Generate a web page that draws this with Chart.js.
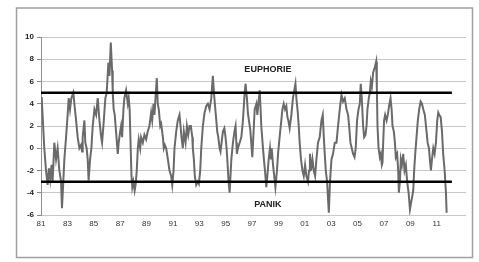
<!DOCTYPE html>
<html>
<head>
<meta charset="utf-8">
<script src="https://cdn.jsdelivr.net/npm/chart.js@4/dist/chart.umd.min.js"></script>
<style>
  html, body { margin: 0; padding: 0; background: #fff; }
  #wrap { width: 479px; height: 262px; }
</style>
</head>
<body>
<div id="wrap"><canvas id="sentChart" width="479" height="262"></canvas></div>
<script>
// sentiment index (x = year, y = index value)
const years = [
    1981.0, 1981.05, 1981.12, 1981.25, 1981.38, 1981.5, 1981.6, 1981.7, 1981.8, 1981.88,
    1982.01, 1982.14, 1982.26, 1982.39, 1982.52, 1982.59, 1982.69, 1982.77, 1982.9, 1983.02,
    1983.1, 1983.2, 1983.3, 1983.45, 1983.53, 1983.66, 1983.78, 1983.91, 1984.04, 1984.11,
    1984.16, 1984.29, 1984.36, 1984.46, 1984.54, 1984.61, 1984.72, 1984.82, 1984.92, 1985.05,
    1985.18, 1985.3, 1985.43, 1985.56, 1985.63, 1985.73, 1985.88, 1985.98, 1986.11, 1986.19,
    1986.29, 1986.39, 1986.44, 1986.51, 1986.59, 1986.69, 1986.82, 1986.89, 1987.0, 1987.07,
    1987.15, 1987.25, 1987.32, 1987.45, 1987.58, 1987.65, 1987.72, 1987.8, 1987.86, 1987.92,
    1988.0, 1988.1, 1988.18, 1988.26, 1988.34, 1988.41, 1988.52, 1988.59, 1988.72, 1988.84,
    1988.97, 1989.09, 1989.22, 1989.35, 1989.43, 1989.53, 1989.6, 1989.68, 1989.78, 1989.85,
    1989.93, 1990.04, 1990.11, 1990.24, 1990.31, 1990.39, 1990.49, 1990.62, 1990.74, 1990.87,
    1990.95, 1991.05, 1991.12, 1991.25, 1991.37, 1991.5, 1991.58, 1991.65, 1991.75, 1991.83,
    1991.96, 1992.06, 1992.16, 1992.26, 1992.36, 1992.47, 1992.51, 1992.59, 1992.66, 1992.77,
    1992.89, 1992.97, 1993.07, 1993.15, 1993.27, 1993.4, 1993.53, 1993.65, 1993.78, 1993.91,
    1994.03, 1994.11, 1994.18, 1994.29, 1994.36, 1994.44, 1994.54, 1994.61, 1994.69, 1994.79,
    1994.9, 1994.99, 1995.07, 1995.15, 1995.22, 1995.3, 1995.43, 1995.55, 1995.68, 1995.75,
    1995.81, 1995.85, 1995.93, 1996.06, 1996.19, 1996.31, 1996.44, 1996.51, 1996.61, 1996.69,
    1996.87, 1997.02, 1997.2, 1997.33, 1997.4, 1997.58, 1997.63, 1997.7, 1997.83, 1997.9,
    1997.98, 1998.08, 1998.16, 1998.26, 1998.36, 1998.43, 1998.49, 1998.59, 1998.77, 1998.89,
    1998.97, 1999.09, 1999.22, 1999.3, 1999.4, 1999.5, 1999.6, 1999.68, 1999.75, 1999.85,
    1999.98, 2000.1, 2000.29, 2000.36, 2000.46, 2000.54, 2000.61, 2000.71, 2000.82, 2000.92,
    2001.02, 2001.12, 2001.24, 2001.32, 2001.39, 2001.47, 2001.58, 2001.68, 2001.78, 2001.88,
    2002.0, 2002.13, 2002.26, 2002.36, 2002.44, 2002.51, 2002.59, 2002.69, 2002.82, 2002.91,
    2003.02, 2003.14, 2003.27, 2003.4, 2003.52, 2003.65, 2003.78, 2003.9, 2004.03, 2004.16,
    2004.28, 2004.36, 2004.46, 2004.56, 2004.66, 2004.77, 2004.86, 2004.96, 2005.07, 2005.17,
    2005.24, 2005.32, 2005.42, 2005.5, 2005.6, 2005.68, 2005.75, 2005.85, 2005.93, 2006.0,
    2006.08, 2006.18, 2006.31, 2006.41, 2006.46, 2006.51, 2006.59, 2006.69, 2006.76, 2006.84,
    2006.89, 2006.94, 2007.01, 2007.09, 2007.2, 2007.29, 2007.39, 2007.5, 2007.58, 2007.65,
    2007.75, 2007.83, 2007.9, 2008.0, 2008.08, 2008.13, 2008.21, 2008.28, 2008.36, 2008.46,
    2008.56, 2008.66, 2008.76, 2008.87, 2008.97, 2009.04, 2009.12, 2009.22, 2009.29, 2009.37,
    2009.47, 2009.57, 2009.67, 2009.78, 2009.88, 2009.98, 2010.1, 2010.23, 2010.31, 2010.41,
    2010.48, 2010.56, 2010.64, 2010.74, 2010.84, 2010.94, 2011.04, 2011.12, 2011.19, 2011.3,
    2011.4, 2011.49, 2011.6, 2011.7, 2011.75
];
const values = [
    4.5, 4.6, 3, 0, -2, -3.3, -1.8, -2.8, -1.5, -3,
    0.5, -1, 0, -2, -3, -5.4, -3, -1, 1, 3,
    4.5, 3.5, 4.5, 5.0, 4, 2.5, 1, 0, 0.3, -0.3,
    1, 2.5, 0.5, 0, -1, -2.9, -1, 0, 2, 3.5,
    3, 4.5, 2.5, 1, 0.5, 2, 4.5, 5.0, 7.7, 6.5,
    9.5, 7, 5, 3.5, 3, 1.5, -0.5, 0.5, 1.5, 2,
    1, 3.5, 4.5, 5.2, 4, 4.5, 3.5, 0, -2.5, -3.5,
    -3.0, -3.8, -3.2, -2, 0, 0.8, 0, 1, 0.5, 1.2,
    0.8, 1.5, 2, 3.2, 2.5, 4, 3, 4.5, 6.3, 4,
    3.5, 2, 2.2, 1, 0, 0.3, 0, -1, -2, -2.5,
    -3.3, -2, 0, 1.5, 2.5, 3, 2, 1, 0, 1.5,
    0.5, 2, 1.2, 2, 2, 1, 0, -1, -2.5, -3.3,
    -3, -3.2, -2, 0, 2, 3.2, 3.8, 4, 3.5, 4.5,
    6.5, 5, 4, 2.5, 1.5, 1, 0, -0.3, 0.5, 1.5,
    1.8, 1, 0, -1.5, -3, -4, -1, 0.5, 1.6, 2,
    0.5, -0.5, 0, 0.5, 1, 2.5, 5, 5.8, 4.5, 3.1,
    1.6, -0.8, 3.5, 4, 3, 5.2, 4, 2, 0, -1,
    -2, -3.5, -2.5, -1, 0, -1, 0, -1.5, -3.5, -2,
    -0.5, 1, 2.5, 3.5, 4, 3.5, 3.8, 2.8, 2.5, 1.8,
    3, 4.5, 5.8, 4.5, 3.3, 2, 0.5, -1, -2, -2.5,
    -1.5, -2.5, -3, -2, -0.5, -2, -1, -2, -2.5, -1,
    0.5, 1, 2.5, 3, 1, -0.5, -2, -3, -5.8, -3,
    -1, -0.5, 0.5, 0.5, 2, 3.5, 4.8, 4.2, 4.5, 3.5,
    3, 2, 0.5, 0, -0.5, -0.8, 0, 2.5, 3.5, 4,
    5.8, 4.5, 2, 1, 1.2, 2, 3.5, 4.5, 5, 6,
    5.5, 6.8, 7.3, 7.8, 5.5, 2, 0, -0.8, -0.5, -1.5,
    -1.3, 0.5, 2.5, 3, 2.5, 3, 3.8, 4.5, 3.5, 2,
    1.5, 0.5, -0.8, -0.5, -2, -4, -3, -1, -1.5, -0.5,
    -2, -1.5, -3, -4, -5.5, -5, -4.5, -3.8, -2, -0.5,
    1, 2.5, 3.5, 4.2, 4, 3.5, 3, 1.5, 0.5, 0,
    -1, -2, -1, 0, -0.5, 0.5, 2.5, 3.2, 3, 2.8,
    1.5, -0.5, -2, -4, -5.8
];

const tickYears = [1981, 1983, 1985, 1987, 1989, 1991, 1993, 1995, 1997, 1999, 2001, 2003, 2005, 2007, 2009, 2011];
const lineStart = 1981;
const lineEnd = 2012.15;
const euphoriaLevel = 5;
const panicLevel = -3;
const zoneLabels = ['EUPHORIE', 'PANIK'];
const zoneLabelX = [1998.2, 1998.2];
const zoneLabelY = [7.1, -5.1];

const frame = {
    id: 'frame',
    beforeDraw(chart) {
        const c = chart.ctx;
        c.save();
        c.fillStyle = '#fff';
        c.fillRect(0, 0, chart.width, chart.height);
        c.strokeStyle = '#a0a0a0';
        c.lineWidth = 1.5;
        c.strokeRect(16.5, 8, 456, 249.5);
        c.restore();
    },
    afterDatasetsDraw(chart) {
        const c = chart.ctx;
        const x = chart.scales.x;
        const y = chart.scales.y;
        c.save();
        c.fillStyle = '#222';
        c.font = 'bold 9px "Liberation Sans", Arial, sans-serif';
        c.textAlign = 'center';
        c.textBaseline = 'middle';
        zoneLabels.forEach((t, i) => {
            c.fillText(t, x.getPixelForValue(zoneLabelX[i]), y.getPixelForValue(zoneLabelY[i]));
        });
        c.restore();
    }
};

const pts = years.map((yr, i) => ({ x: yr, y: values[i] }));

new Chart(document.querySelector('#sentChart'), {
    type: 'line',
    data: {
        datasets: [{
            data: pts,
            borderColor: '#6a6a6a',
            borderWidth: 2,
            pointRadius: 0,
            tension: 0,
            order: 2
        }, {
            data: [{ x: lineStart, y: euphoriaLevel }, { x: lineEnd, y: euphoriaLevel }],
            borderColor: '#000',
            borderWidth: 2.5,
            pointRadius: 0,
            order: 1
        }, {
            data: [{ x: lineStart, y: panicLevel }, { x: lineEnd, y: panicLevel }],
            borderColor: '#000',
            borderWidth: 2.5,
            pointRadius: 0,
            order: 1
        }]
    },
    options: {
        responsive: false,
        animation: false,
        events: [],
        layout: { padding: { top: 37, right: 13, bottom: 0, left: 0 } },
        plugins: { legend: { display: false }, tooltip: { enabled: false } },
        scales: {
            x: {
                type: 'linear',
                min: 1981,
                max: 2013.22,
                afterBuildTicks(scale) {
                    scale.ticks = tickYears.map(v => ({ value: v }));
                },
                afterFit(scale) { scale.height = 47; },
                ticks: {
                    color: '#333',
                    font: { size: 8, family: '"Liberation Sans", Arial, sans-serif' },
                    padding: 4,
                    maxRotation: 0,
                    autoSkip: false,
                    callback: v => String(v).slice(2)
                },
                grid: { display: false, drawTicks: false },
                border: { display: false }
            },
            y: {
                min: -6,
                max: 10,
                afterFit(scale) { scale.width = 41; },
                ticks: {
                    stepSize: 2,
                    color: '#222',
                    font: { size: 8, weight: 'bold', family: '"Liberation Sans", Arial, sans-serif' },
                    padding: 3
                },
                grid: { color: '#c8c8c8', lineWidth: 1, tickLength: 4, tickColor: '#888' },
                border: { display: true, color: '#909090', width: 1 }
            }
        }
    },
    plugins: [frame]
});
</script>
</body>
</html>
